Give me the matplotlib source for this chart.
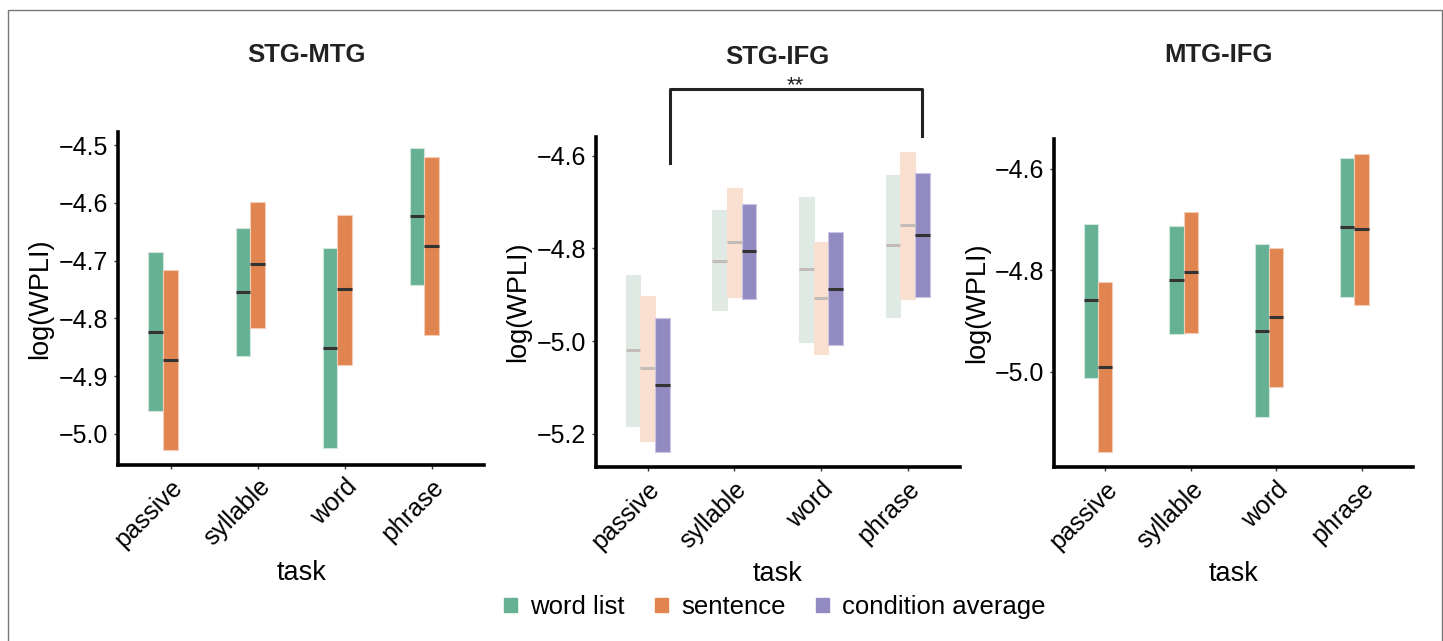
import matplotlib
matplotlib.use("Agg")
import matplotlib.pyplot as plt
from matplotlib.patches import Patch, Rectangle

plt.rcParams['font.family'] = ['Liberation Sans', 'DejaVu Sans']

tasks = ["passive", "syllable", "word", "phrase"]

# STG-MTG
p1_word_lo = [-4.961, -4.865, -5.024, -4.742]
p1_word_hi = [-4.686, -4.644, -4.678, -4.505]
p1_word_med = [-4.824, -4.755, -4.852, -4.623]
p1_sent_lo = [-5.028, -4.816, -4.881, -4.829]
p1_sent_hi = [-4.717, -4.598, -4.621, -4.521]
p1_sent_med = [-4.872, -4.706, -4.750, -4.675]

# STG-IFG
p2_word_lo = [-5.182, -4.933, -5.002, -4.947]
p2_word_hi = [-4.857, -4.716, -4.690, -4.641]
p2_word_med = [-5.019, -4.826, -4.845, -4.793]
p2_sent_lo = [-5.216, -4.905, -5.028, -4.908]
p2_sent_hi = [-4.902, -4.670, -4.787, -4.591]
p2_sent_med = [-5.058, -4.787, -4.907, -4.750]
p2_avg_lo = [-5.240, -4.908, -5.009, -4.905]
p2_avg_hi = [-4.949, -4.704, -4.764, -4.638]
p2_avg_med = [-5.094, -4.806, -4.887, -4.772]

# MTG-IFG
p3_word_lo = [-5.012, -4.926, -5.089, -4.852]
p3_word_hi = [-4.709, -4.712, -4.749, -4.579]
p3_word_med = [-4.859, -4.820, -4.920, -4.715]
p3_sent_lo = [-5.158, -4.924, -5.030, -4.868]
p3_sent_hi = [-4.823, -4.686, -4.756, -4.570]
p3_sent_med = [-4.991, -4.804, -4.893, -4.719]

GREEN = "#66b193"
ORANGE = "#e08450"
PURPLE = "#928bc2"
GREEN_FADE = "#e0eae4"
ORANGE_FADE = "#f9e0d0"
W = 0.169


def draw_boxes(ax, lo, hi, med, slot, color, edge, med_color):
    xs = [i + slot * W for i in range(len(tasks))]
    heights = [h - l for l, h in zip(lo, hi)]
    ax.bar(xs, heights, bottom=lo, width=W, color=color, edgecolor=edge,
           linewidth=0.8, zorder=2)
    for x, m in zip(xs, med):
        ax.plot([x - W / 2, x + W / 2], [m, m], color=med_color, lw=2.2,
                solid_capstyle='butt', zorder=3)


def style_axis(ax, title, ylim, yticks, title_xy):
    ax.set_xlim(-0.6, 3.6)
    ax.set_ylim(*ylim)
    ax.set_yticks(yticks)
    ax.set_yticklabels([f"{v:.1f}".replace("-", "\u2212") for v in yticks], fontsize=18)
    ax.set_xticks(range(len(tasks)))
    ax.set_xticklabels(tasks, fontsize=18, rotation=45, ha='right', va='top',
                       rotation_mode='anchor')
    for s in ['top', 'right']:
        ax.spines[s].set_visible(False)
    for s in ['left', 'bottom']:
        ax.spines[s].set_linewidth(2.6)
        ax.spines[s].set_color('black')
    ax.tick_params(length=3, width=1, color='#333333', pad=4)
    ax.set_ylabel("log(WPLI)", fontsize=19.5)
    ax.yaxis.set_label_coords(-0.178, 0.5)
    ax.set_xlabel("task", fontsize=19.5)
    ax.xaxis.set_label_coords(0.5, -0.285)
    fig.text(title_xy[0] / 1443, 1 - title_xy[1] / 641, title, fontsize=18.5,
             fontweight='bold', ha='center', va='center', color='#222222')


fig = plt.figure(figsize=(14.43, 6.41), dpi=100)

ax1 = fig.add_axes([0.0820, 0.2746, 0.2534, 0.5190])
ax2 = fig.add_axes([0.4128, 0.2710, 0.2523, 0.5157])
ax3 = fig.add_axes([0.7304, 0.2710, 0.2488, 0.5122])

draw_boxes(ax1, p1_word_lo, p1_word_hi, p1_word_med, -1, GREEN, "#cfe6dc", "#333333")
draw_boxes(ax1, p1_sent_lo, p1_sent_hi, p1_sent_med, 0, ORANGE, "#f3cdb8", "#333333")
style_axis(ax1, "STG-MTG", (-5.054, -4.478), [-5.0, -4.9, -4.8, -4.7, -4.6, -4.5], (306, 55))

draw_boxes(ax2, p2_word_lo, p2_word_hi, p2_word_med, -1, GREEN_FADE, GREEN_FADE, "#c4bcb8")
draw_boxes(ax2, p2_sent_lo, p2_sent_hi, p2_sent_med, 0, ORANGE_FADE, ORANGE_FADE, "#c4bcb8")
draw_boxes(ax2, p2_avg_lo, p2_avg_hi, p2_avg_med, 1, PURPLE, "#c9c5e3", "#333333")
style_axis(ax2, "STG-IFG", (-5.272, -4.559), [-5.2, -5.0, -4.8, -4.6], (777, 57))

# significance bracket
ax2.plot([0.26, 0.26, 3.17, 3.17], [-4.616, -4.457, -4.457, -4.558], color='#222222',
         lw=2.2, clip_on=False, zorder=4)
ax2.text(1.70, -4.449, "**", fontsize=16, ha='center', va='center', color='#222222')

draw_boxes(ax3, p3_word_lo, p3_word_hi, p3_word_med, -1, GREEN, "#cfe6dc", "#333333")
draw_boxes(ax3, p3_sent_lo, p3_sent_hi, p3_sent_med, 0, ORANGE, "#f3cdb8", "#333333")
style_axis(ax3, "MTG-IFG", (-5.189, -4.541), [-5.0, -4.8, -4.6], (1219, 55))

handles = [Patch(color=GREEN, label="word list"),
           Patch(color=ORANGE, label="sentence"),
           Patch(color=PURPLE, label="condition average")]
fig.legend(handles=handles, loc='center', bbox_to_anchor=(775 / 1443, 1 - 607 / 641),
           ncol=3, frameon=False, fontsize=18.5, handlelength=0.5, handleheight=0.45,
           handletextpad=0.5, columnspacing=1.2)

# thin frame around the figure
fig.patches.append(Rectangle((8 / 1443, -0.05), 1433.5 / 1443, 1.05 - 10 / 641,
                             transform=fig.transFigure, fill=False,
                             edgecolor='#777777', lw=1))

fig.savefig("out.png", dpi=100)
